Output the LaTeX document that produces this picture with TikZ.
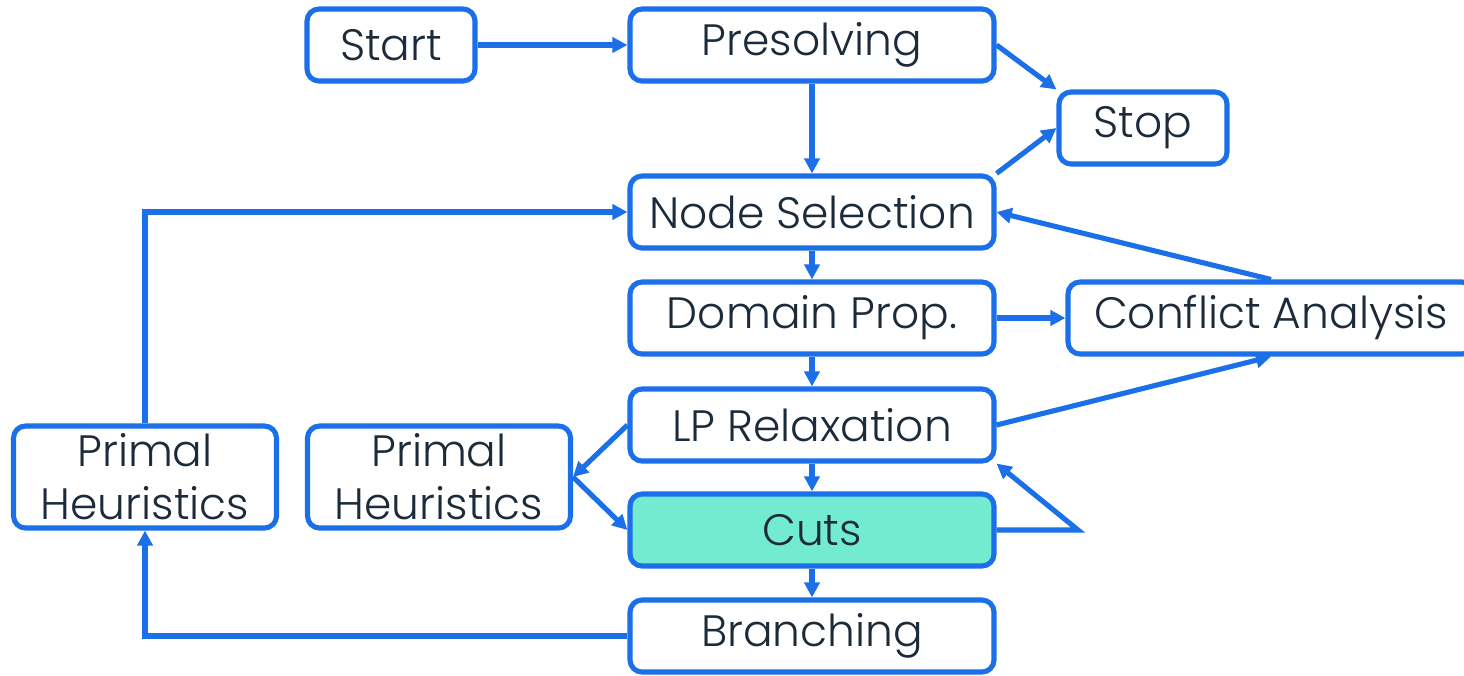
\documentclass[tikz,border=0pt]{standalone}
\usepackage{fontspec}
\setmainfont{Poppins Light}
\usetikzlibrary{arrows.meta}
\definecolor{flowblue}{HTML}{1B6FE8}
\definecolor{flowtext}{HTML}{1C2B3A}
\definecolor{cutsfill}{HTML}{72EBD0}
\tikzset{
  box/.style={draw=flowblue, line width=2.9pt, rounded corners=0.24cm, fill=white, text=flowtext,
    inner sep=0pt, minimum height=1.44cm, font=\fontsize{25}{30}\selectfont},
  smallbox/.style={box, minimum width=3.36cm},
  widebox/.style={box, minimum width=7.28cm},
  heurbox/.style={box, minimum width=5.26cm, minimum height=2.04cm, align=center},
  flow/.style={draw=flowblue, line width=2.9pt, -{Triangle[length=0.3cm,width=0.3cm]}}
}
\begin{document}
\begin{tikzpicture}
    \useasboundingbox (0,0) rectangle (29.28,-13.50);

    \draw (7.82,-0.90) node[smallbox] (start) {Start};
    \draw (16.24,-0.90) node[widebox] (presolve) {Presolving};
    \draw (22.86,-2.56) node[smallbox] (stop) {Stop};
    \draw (16.24,-4.24) node[widebox] (nodesel) {Node Selection};
    \draw (16.24,-6.36) node[widebox] (domprop) {Domain Prop.};
    \draw (25.42,-6.36) node[box, minimum width=8.12cm] (conflict) {Conflict Analysis};
    \draw (16.24,-8.50) node[widebox] (lprelax) {LP Relaxation};
    \draw (16.24,-10.60) node[widebox, fill=cutsfill] (cuts) {Cuts};
    \draw (16.24,-12.72) node[widebox] (branch) {Branching};
    \draw (2.90,-9.54) node[heurbox] (heurleft) {Primal\\Heuristics};
    \draw (8.78,-9.54) node[heurbox] (heurmid) {Primal\\Heuristics};
    \coordinate (cutsturn) at (21.56,-10.60);

    \draw[flow] (start) -- (presolve);
    \draw[flow] (presolve.east) -- (stop.north west);
    \draw[flow] (nodesel.north east) -- (stop.west);
    \draw[flow] (presolve) -- (nodesel);
    \draw[flow] (nodesel) -- (domprop);
    \draw[flow] (domprop) -- (conflict);
    \draw[flow] (conflict.north) -- (nodesel.east);
    \draw[flow] (domprop) -- (lprelax);
    \draw[flow] (lprelax.east) -- (conflict.south);
    \draw[flow] (lprelax) -- (cuts);
    \draw[flow] (cuts.east) -- (cutsturn) -- (lprelax.south east);
    \draw[flow] (lprelax.west) -- (heurmid.east);
    \draw[flow] (heurmid.east) -- (cuts.west);
    \draw[flow] (cuts) -- (branch);
    \draw[flow] (branch.west) -| (heurleft.south);
    \draw[flow] (heurleft.north) |- (nodesel.west);
  \end{tikzpicture}
\end{document}
